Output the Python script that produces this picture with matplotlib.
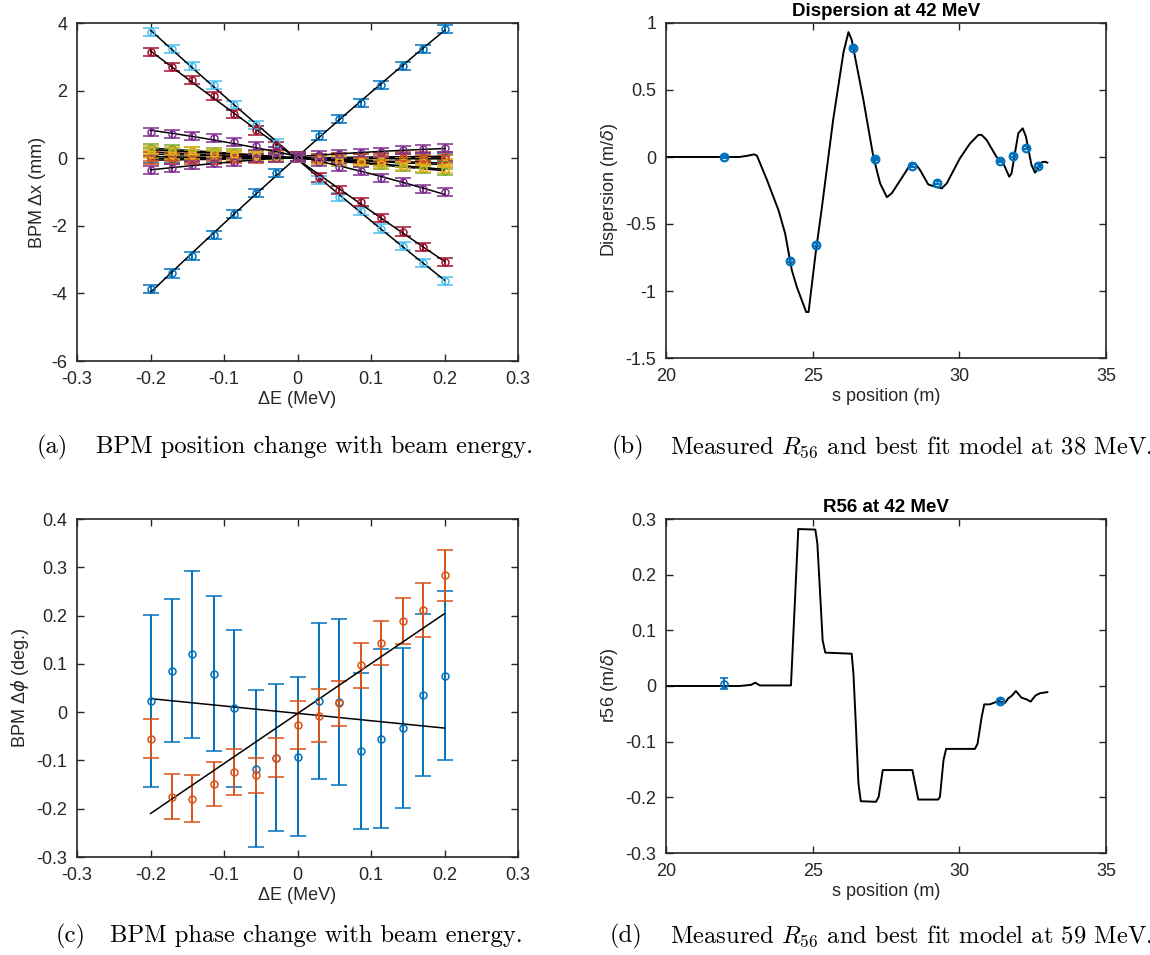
import numpy as np
import matplotlib
matplotlib.use('Agg')
import matplotlib.pyplot as plt
from matplotlib.ticker import FuncFormatter

plt.rcParams['font.family'] = ['Liberation Sans', 'DejaVu Sans']
plt.rcParams['axes.unicode_minus'] = False

# MATLAB default colour order
c_blue, c_orange, c_yellow = '#0072BD', '#D95319', '#EDB120'
c_purple, c_green, c_lblue, c_red = '#7E2F8E', '#77AC30', '#4DBEEE', '#A2142F'
edge = '#262626'

# (a) BPM position vs energy
dE = [-0.2, -0.171, -0.143, -0.114, -0.086, -0.057, -0.029, 0.0,
      0.029, 0.057, 0.086, 0.114, 0.143, 0.171, 0.2]
bpm_blue1 = [-3.88, -3.41, -2.89, -2.27, -1.65, -1.04, -0.44, 0.05, 0.67, 1.16, 1.62, 2.17, 2.73, 3.24, 3.82]
bpm_orange1 = [0.05, 0.04, 0.02, 0.03, 0.01, 0.0, 0.02, 0.0, -0.02, 0.0, -0.01, -0.02, 0.0, -0.03, -0.02]
bpm_yellow1 = [0.25, 0.22, 0.2, 0.15, 0.12, 0.08, 0.05, 0.02, -0.05, -0.08, -0.12, -0.18, -0.22, -0.28, -0.33]
bpm_purple1 = [0.78, 0.71, 0.66, 0.61, 0.47, 0.35, 0.2, 0.0, -0.1, -0.25, -0.38, -0.59, -0.71, -0.91, -1.01]
bpm_green1 = [0.3, 0.26, 0.22, 0.18, 0.14, 0.1, 0.06, 0.01, -0.06, -0.1, -0.15, -0.2, -0.26, -0.31, -0.37]
bpm_lblue = [3.73, 3.24, 2.72, 2.17, 1.57, 0.99, 0.44, 0.05, -0.64, -1.14, -1.55, -2.08, -2.60, -3.11, -3.62]
bpm_red = [3.13, 2.69, 2.32, 1.83, 1.31, 0.82, 0.37, 0.05, -0.57, -0.94, -1.29, -1.78, -2.17, -2.62, -3.08]
bpm_blue2 = [-0.02, -0.01, 0.0, -0.01, 0.01, 0.0, 0.02, 0.01, 0.0, 0.02, 0.01, 0.03, 0.02, 0.04, 0.03]
bpm_orange2 = [-0.06, -0.05, -0.04, -0.04, -0.02, -0.02, 0.0, 0.0, 0.01, 0.02, 0.02, 0.03, 0.05, 0.05, 0.06]
bpm_yellow2 = [0.12, 0.1, 0.09, 0.07, 0.06, 0.04, 0.02, 0.0, -0.03, -0.05, -0.07, -0.08, -0.1, -0.12, -0.14]
bpm_purple2 = [-0.35, -0.30, -0.21, -0.15, -0.12, 0.0, 0.02, 0.04, 0.08, 0.12, 0.15, 0.17, 0.23, 0.28, 0.30]
bpm_green2 = [0.18, 0.16, 0.13, 0.11, 0.08, 0.06, 0.03, 0.0, -0.03, -0.06, -0.08, -0.11, -0.13, -0.16, -0.19]
bpm_err = 0.12

series_a = [(bpm_green1, c_green), (bpm_green2, c_green), (bpm_blue2, c_blue),
            (bpm_blue1, c_blue), (bpm_lblue, c_lblue), (bpm_red, c_red),
            (bpm_orange2, c_orange), (bpm_yellow2, c_yellow), (bpm_orange1, c_orange),
            (bpm_yellow1, c_yellow), (bpm_purple2, c_purple), (bpm_purple1, c_purple)]

# (b) dispersion model and measurement
s_disp = [20.0, 22.5, 22.8, 23.0, 23.1, 23.44, 23.84, 24.06, 24.29, 24.46, 24.78, 24.86,
          25.1, 25.3, 25.7, 26.05, 26.22, 26.33, 26.73, 27.07, 27.3, 27.53, 27.7,
          28.32, 28.49, 28.66, 28.94, 29.11, 29.4, 29.57, 30.02, 30.36, 30.65, 30.76,
          30.93, 31.27, 31.5, 31.7, 31.78, 32.01, 32.16, 32.27, 32.46, 32.58, 32.69,
          32.8, 32.92, 33.0]
disp_model = [0.0, 0.0, 0.01, 0.02, 0.01, -0.17, -0.40, -0.57, -0.845, -0.97, -1.157, -1.157,
              -0.72, -0.40, 0.28, 0.78, 0.932, 0.875, 0.426, 0.0, -0.197, -0.30, -0.27,
              -0.06, -0.047, -0.097, -0.205, -0.217, -0.234, -0.197, -0.01, 0.10, 0.165, 0.165,
              0.127, 0.0, -0.047, -0.147, -0.122, 0.177, 0.214, 0.152, -0.06, -0.117, -0.085,
              -0.04, -0.035, -0.042]
s_bpm = [21.99, 24.22, 25.11, 26.36, 27.14, 28.37, 29.25, 31.38, 31.84, 32.26, 32.69]
disp_meas = [0.0, -0.773, -0.653, 0.813, -0.015, -0.065, -0.192, -0.03, 0.01, 0.07, -0.065]

# (c) BPM phase vs energy
phase_blue = [0.023, 0.086, 0.120, 0.080, 0.008, -0.117, -0.094, -0.092, 0.023, 0.021,
              -0.080, -0.055, -0.033, 0.035, 0.075]
phase_blue_err = [0.178, 0.148, 0.173, 0.160, 0.163, 0.162, 0.152, 0.164, 0.161, 0.172,
                  0.161, 0.185, 0.166, 0.168, 0.175]
phase_orange = [-0.055, -0.175, -0.179, -0.149, -0.124, -0.131, -0.094, -0.027, -0.007, 0.018,
                0.097, 0.143, 0.189, 0.211, 0.283]
phase_orange_err = [0.040, 0.047, 0.049, 0.046, 0.047, 0.037, 0.041, 0.050, 0.054, 0.047,
                    0.046, 0.046, 0.048, 0.056, 0.053]
fit_dE = [-0.2, 0.2]
fit_blue = [0.028, -0.033]
fit_orange = [-0.21, 0.204]

# (d) R56 model and measurement
s_r56 = [20.0, 22.5, 22.9, 23.04, 23.2, 24.26, 24.51, 25.09, 25.16, 25.26, 25.34, 25.43,
         26.33, 26.39, 26.47, 26.56, 26.64, 27.16, 27.25, 27.39, 28.40, 28.60, 29.28,
         29.34, 29.46, 29.55, 30.53, 30.62, 30.76, 30.85, 31.04, 31.33, 31.56, 31.67,
         31.78, 31.93, 32.12, 32.29, 32.43, 32.60, 32.75, 33.0]
r56_model = [0.0, 0.0, 0.002, 0.006, 0.001, 0.001, 0.282, 0.281, 0.256, 0.16, 0.082, 0.06,
             0.058, 0.022, -0.067, -0.175, -0.207, -0.208, -0.199, -0.151, -0.151, -0.204, -0.204,
             -0.199, -0.133, -0.113, -0.113, -0.104, -0.056, -0.033, -0.033, -0.027, -0.030, -0.022,
             -0.018, -0.009, -0.021, -0.024, -0.028, -0.017, -0.013, -0.011]
s_r56_meas = [21.98, 31.38]
r56_meas = [0.004, -0.027]
r56_err = [0.0096, 0.003]

fig = plt.figure(figsize=(11.5, 9.55), dpi=100)
W, H = 1150, 955


def make_axes(l, t, r, b):
    ax = fig.add_axes([l / W, 1 - b / H, (r - l) / W, (b - t) / H])
    for sp in ax.spines.values():
        sp.set_color(edge)
        sp.set_linewidth(1.2)
    ax.tick_params(direction='in', top=True, right=True, length=5, width=1.0,
                   colors=edge, labelsize=13, labelcolor=edge, pad=7)
    fmt = FuncFormatter(lambda v, p: '%g' % round(v, 6))
    ax.xaxis.set_major_formatter(fmt)
    ax.yaxis.set_major_formatter(fmt)
    return ax


# (a)
ax = make_axes(77, 23, 518, 361)
for yv, col in series_a:
    ax.errorbar(dE, yv, yerr=bpm_err, fmt='o', ms=5, mfc='none', mec=col, mew=1.1,
                color=col, elinewidth=1.4, capsize=6, capthick=1.4)
    p = np.polyfit(dE, yv, 2)
    ax.plot(dE, np.polyval(p, dE), color='k', lw=1.1)
ax.set_xlim(-0.3, 0.3)
ax.set_ylim(-6, 4)
ax.set_xticks([-0.3, -0.2, -0.1, 0, 0.1, 0.2, 0.3])
ax.set_yticks([-6, -4, -2, 0, 2, 4])
ax.set_xlabel('ΔE (MeV)', fontsize=13, color=edge, labelpad=2)
ax.set_ylabel('BPM Δx (mm)', fontsize=13, color=edge)

# (b)
ax = make_axes(666, 23, 1106, 358)
ax.plot(s_disp, disp_model, color='k', lw=1.4)
ax.errorbar(s_bpm, disp_meas, yerr=0.01, fmt='o', ms=5.5, mfc='none', mec=c_blue, mew=1.6,
            color=c_blue, elinewidth=1.0, capsize=2)
ax.set_xlim(20, 35)
ax.set_ylim(-1.5, 1)
ax.set_xticks([20, 25, 30, 35])
ax.set_yticks([-1.5, -1, -0.5, 0, 0.5, 1])
ax.set_xlabel('s position (m)', fontsize=13, color=edge, labelpad=2)
ax.set_ylabel(r'Dispersion (m/$\delta$)', fontsize=13, color=edge)
ax.set_title('Dispersion at 42 MeV', fontsize=13.5, fontweight='bold', pad=5)

# (c)
ax = make_axes(77, 519, 518, 857)
ax.errorbar(dE, phase_blue, yerr=phase_blue_err, fmt='o', ms=5, mfc='none', mec=c_blue,
            mew=1.1, color=c_blue, elinewidth=1.4, capsize=6, capthick=1.4)
ax.plot(fit_dE, fit_blue, color='k', lw=1.1)
ax.errorbar(dE, phase_orange, yerr=phase_orange_err, fmt='o', ms=5, mfc='none', mec=c_orange,
            mew=1.1, color=c_orange, elinewidth=1.4, capsize=6, capthick=1.4)
ax.plot(fit_dE, fit_orange, color='k', lw=1.1)
ax.set_xlim(-0.3, 0.3)
ax.set_ylim(-0.3, 0.4)
ax.set_xticks([-0.3, -0.2, -0.1, 0, 0.1, 0.2, 0.3])
ax.set_yticks([-0.3, -0.2, -0.1, 0, 0.1, 0.2, 0.3, 0.4])
ax.set_xlabel('ΔE (MeV)', fontsize=13, color=edge, labelpad=2)
ax.set_ylabel(r'BPM Δ$\phi$ (deg.)', fontsize=13, color=edge)

# (d)
ax = make_axes(666, 519, 1106, 853)
ax.plot(s_r56, r56_model, color='k', lw=1.4)
ax.errorbar(s_r56_meas[:1], r56_meas[:1], yerr=r56_err[:1], fmt='o', ms=5, mfc='none',
            mec=c_blue, mew=1.2, color=c_blue, elinewidth=1.4, capsize=3, capthick=1.4)
ax.errorbar(s_r56_meas[1:], r56_meas[1:], yerr=r56_err[1:], fmt='o', ms=5.5, mfc='none',
            mec=c_blue, mew=1.6, color=c_blue, elinewidth=1.0, capsize=2)
ax.set_xlim(20, 35)
ax.set_ylim(-0.3, 0.3)
ax.set_xticks([20, 25, 30, 35])
ax.set_yticks([-0.3, -0.2, -0.1, 0, 0.1, 0.2, 0.3])
ax.set_xlabel('s position (m)', fontsize=13, color=edge, labelpad=2)
ax.set_ylabel(r'r56 (m/$\delta$)', fontsize=13, color=edge)
ax.set_title('R56 at 42 MeV', fontsize=13.5, fontweight='bold', pad=5)

# sub-captions (label x, text x, y)
caps = [(37, 96, 447, '(a)', 'BPM position change with beam energy.'),
        (612, 670, 447, '(b)', r'Measured $R_{56}$ and best fit model at 38 MeV.'),
        (56, 110, 936, '(c)', 'BPM phase change with beam energy.'),
        (610, 670, 936, '(d)', r'Measured $R_{56}$ and best fit model at 59 MeV.')]
for xl, xt, y0, lab, txt in caps:
    fig.text(xl / W, 1 - y0 / H, lab, family='cmr10', fontsize=17.7, va='center')
    fig.text(xt / W, 1 - y0 / H, txt, family='cmr10', fontsize=17.7, va='center',
             math_fontfamily='cm')

fig.savefig('out.png', dpi=100)
